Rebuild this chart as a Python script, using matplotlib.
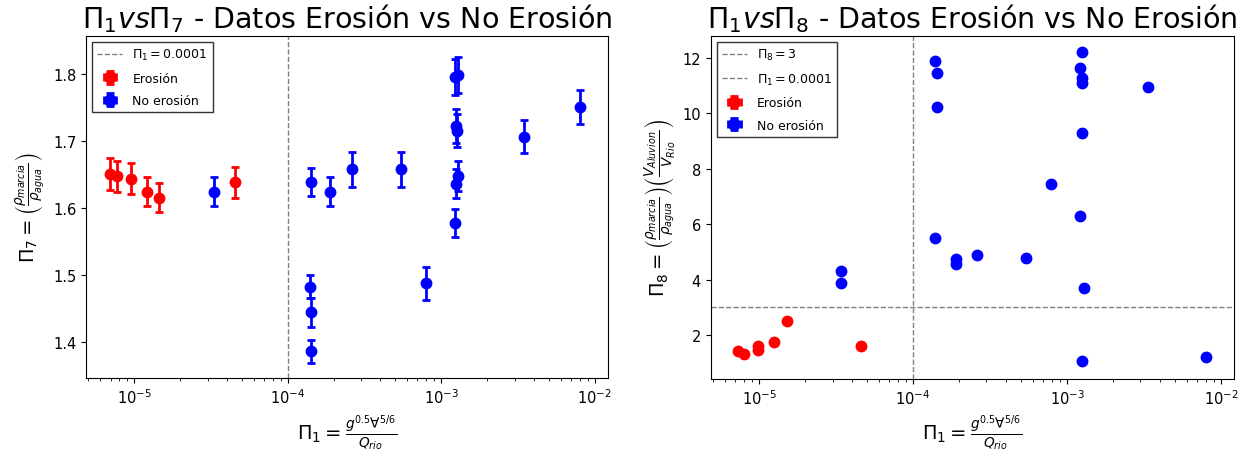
import matplotlib.pyplot as plt
import numpy as np

# Panel izquierdo: Pi1 vs Pi7 (con barras de error)
pi1_ero_a = [6.97e-6, 7.7e-6, 9.5e-6, 1.21e-5, 1.44e-5, 4.5e-5]
pi7_ero = [1.651, 1.648, 1.644, 1.625, 1.616, 1.639]
err7_ero = [0.024, 0.023, 0.023, 0.022, 0.022, 0.023]

pi1_noero_a = [3.33e-5, 1.415e-4, 1.40e-4, 1.415e-4, 1.415e-4, 1.88e-4, 2.61e-4,
               5.45e-4, 8.0e-4, 1.22e-3, 1.25e-3, 1.29e-3, 1.25e-3, 1.26e-3,
               1.22e-3, 1.29e-3, 3.44e-3, 8.03e-3]
pi7_noero = [1.625, 1.639, 1.483, 1.445, 1.387, 1.625, 1.658,
             1.658, 1.488, 1.578, 1.637, 1.648, 1.723, 1.716,
             1.796, 1.799, 1.707, 1.751]
err7_noero = [0.022, 0.021, 0.017, 0.022, 0.017, 0.022, 0.026,
              0.026, 0.024, 0.021, 0.022, 0.022, 0.025, 0.025,
              0.027, 0.027, 0.025, 0.025]

# Panel derecho: Pi1 vs Pi8
pi1_ero_b = [7.3e-6, 8.0e-6, 9.86e-6, 9.86e-6, 1.25e-5, 1.51e-5, 4.6e-5]
pi8_ero = [1.43, 1.31, 1.59, 1.46, 1.74, 2.52, 1.60]

pi1_noero_b = [3.42e-5, 3.42e-5, 1.39e-4, 1.43e-4, 1.43e-4, 1.39e-4, 1.90e-4,
               1.90e-4, 2.62e-4, 5.41e-4, 7.85e-4, 1.22e-3, 1.25e-3, 1.25e-3,
               1.22e-3, 1.25e-3, 1.25e-3, 1.29e-3, 1.25e-3, 3.37e-3, 8.0e-3]
pi8_noero = [4.32, 3.87, 11.88, 11.47, 10.23, 5.51, 4.75,
             4.55, 4.89, 4.78, 7.45, 6.30, 9.31, 12.22,
             11.65, 11.29, 11.10, 3.70, 1.05, 10.96, 1.20]

pi1_limite = 0.0001
pi8_limite = 3

xlabel = r'$\Pi_1 = \frac{g^{0.5}\forall^{5/6}}{Q_{rio}}$'
ylabel7 = r'$\Pi_7 = \left(\frac{\rho_{marcia}}{\rho_{agua}}\right)$'
ylabel8 = r'$\Pi_8 = \left(\frac{\rho_{marcia}}{\rho_{agua}}\right)\left(\frac{V_{Aluvion}}{V_{Rio}}\right)$'

fig = plt.figure(figsize=(12.49, 4.60), dpi=100)
ax1 = fig.add_axes([0.0689, 0.176, 0.4179, 0.7436])
ax2 = fig.add_axes([0.569, 0.174, 0.4192, 0.7457])

eb = dict(fmt='o', markersize=7.5, elinewidth=2, capsize=3, capthick=2)
leg = dict(loc='upper left', fontsize=9, labelspacing=0.75, fancybox=False,
           edgecolor='black', markerscale=1.1)

# --- izquierda
ax1.axvline(pi1_limite, color='gray', linestyle='--', linewidth=1,
            label=r'$\Pi_1 = 0.0001$')
ax1.errorbar(pi1_ero_a, pi7_ero, yerr=err7_ero, xerr=np.zeros(len(pi7_ero)),
             color='red', label='Erosión', **eb)
ax1.errorbar(pi1_noero_a, pi7_noero, yerr=err7_noero, xerr=np.zeros(len(pi7_noero)),
             color='blue', label='No erosión', **eb)
ax1.set_xscale('log')
ax1.set_xlim(4.85e-6, 1.22e-2)
ax1.set_ylim(1.347, 1.857)
ax1.set_yticks([1.4, 1.5, 1.6, 1.7, 1.8])
ax1.set_title(r'$\Pi_1 vs \Pi_7$ - Datos Erosión vs No Erosión', fontsize=20.5)
ax1.set_xlabel(xlabel, fontsize=14)
ax1.set_ylabel(ylabel7, fontsize=14)
ax1.legend(**leg)

# --- derecha
ax2.axhline(pi8_limite, color='gray', linestyle='--', linewidth=1,
            label=r'$\Pi_8 = 3$')
ax2.axvline(pi1_limite, color='gray', linestyle='--', linewidth=1,
            label=r'$\Pi_1 = 0.0001$')
ax2.errorbar(pi1_ero_b, pi8_ero, yerr=np.zeros(len(pi8_ero)), xerr=np.zeros(len(pi8_ero)),
             color='red', label='Erosión', **eb)
ax2.errorbar(pi1_noero_b, pi8_noero, yerr=np.zeros(len(pi8_noero)),
             xerr=np.zeros(len(pi8_noero)), color='blue', label='No erosión', **eb)
ax2.set_xscale('log')
ax2.set_xlim(4.85e-6, 1.22e-2)
ax2.set_ylim(0.41, 12.80)
ax2.set_yticks([2, 4, 6, 8, 10, 12])
ax2.set_title(r'$\Pi_1 vs \Pi_8$ - Datos Erosión vs No Erosión', fontsize=20.5)
ax2.set_xlabel(xlabel, fontsize=14)
ax2.set_ylabel(ylabel8, fontsize=14)
ax2.legend(**leg)

for ax in (ax1, ax2):
    ax.tick_params(labelsize=10.5)

fig.savefig('out.png', dpi=100)
